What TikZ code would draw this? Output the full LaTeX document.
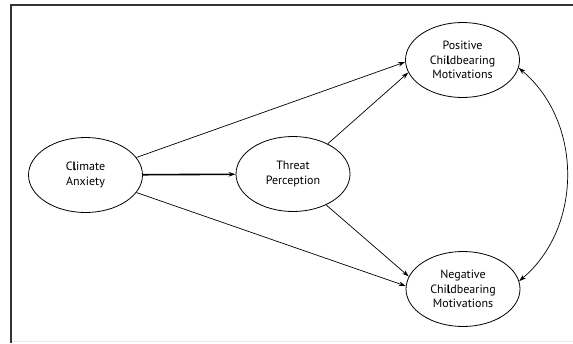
\documentclass[tikz,border=0pt]{standalone}
\usepackage{fontspec}
\setmainfont{PT Sans}
\usetikzlibrary{shapes.geometric,arrows.meta}
\begin{document}
\begin{tikzpicture}[x=1pt,y=-1pt,
  latent/.style={ellipse,draw,line width=0.8pt,minimum width=114pt,minimum height=75pt,inner sep=0pt,align=center,font=\fontsize{12}{14.5}\selectfont},
  tip/.tip={Stealth[length=7pt,width=4.5pt]},
  pathline/.style={line width=0.7pt,-tip},
  frame/.style={line width=1.5pt,draw=black!80}
]
\useasboundingbox (0,0) rectangle (573,343);
\draw[frame] (11,343) -- (11,5) -- (573,5);
\draw[line width=0.8pt,draw=black!8] (12,341.5) -- (573,341.5);

\node[latent] (ca)  at (85.5,175) {C\textbf{l}imate\\Anxiety};
\node[latent] (tp)  at (293,174) {Threat\\Perception};
\node[latent] (pos) at (462.5,60) {Positive\\Chi\textbf{l}dbearing\\Motivations};
\node[latent] (neg) at (463,289) {Negative\\Chi\textbf{l}dbearing\\Motivations};

\draw[pathline] (ca.19) -- (pos.182);
\draw[pathline] (tp.41) -- (pos.193);
\draw[pathline,line width=1.6pt] (ca) -- (tp);
\draw[pathline] (ca.-19) -- (neg.177);
\draw[pathline] (tp.-43) -- (neg.167);
\draw[line width=0.7pt,tip-tip] (pos.-8) to[bend left=50] (neg.8);
\end{tikzpicture}
\end{document}
